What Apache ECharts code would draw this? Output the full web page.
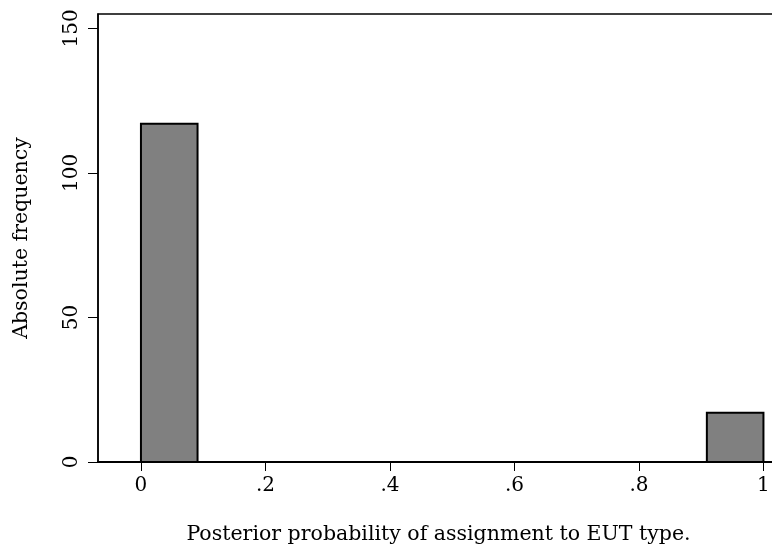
<!DOCTYPE html>
<html>
<head>
<meta charset="utf-8">
<script src="https://cdn.jsdelivr.net/npm/echarts@6/dist/echarts.min.js"></script>
<style>
  html, body { margin: 0; padding: 0; background: #fff; }
  #chart { width: 772px; height: 549px; }
</style>
</head>
<body>
<div id="chart"></div>
<script>
// histogram: 11 equal bins on [0, 1]
const binStarts = [0, 1 / 11, 2 / 11, 3 / 11, 4 / 11, 5 / 11, 6 / 11, 7 / 11, 8 / 11, 9 / 11, 10 / 11];
const binEnds = [1 / 11, 2 / 11, 3 / 11, 4 / 11, 5 / 11, 6 / 11, 7 / 11, 8 / 11, 9 / 11, 10 / 11, 1];
const counts = [117, 0, 0, 0, 0, 0, 0, 0, 0, 0, 17];
const xTicks = [0, 0.2, 0.4, 0.6, 0.8, 1];
const xTickLabels = ['0', '.2', '.4', '.6', '.8', '1'];
const yTicks = [0, 50, 100, 150];

const font = 'DejaVu Serif';

const chart = echarts.init(document.getElementById('chart'));

const option = {
    animation: false,
    grid: {
        left: 98,
        top: 14,
        width: 681,
        height: 448,
        outerBoundsMode: 'none',
        containLabel: false,
        show: true,
        borderColor: '#000',
        borderWidth: 1.5,
    },
    xAxis: {
        type: 'value',
        min: -0.069,
        max: -0.069 + 681 / 622.5,
        interval: 0.2,
        splitLine: { show: false },
        axisLine: { show: true, onZero: false, lineStyle: { color: '#000', width: 2 } },
        axisTick: {
            show: true,
            length: 9,
            lineStyle: { color: '#000', width: 1 },
            customValues: xTicks,
        },
        axisLabel: {
            customValues: xTicks,
            formatter: (v) => xTickLabels[xTicks.findIndex((t) => Math.abs(t - v) < 1e-9)] ?? '',
            color: '#000',
            fontFamily: font,
            fontSize: 20,
            margin: 14,
        },
        name: 'Posterior probability of assignment to EUT type.',
        nameLocation: 'middle',
        nameGap: 62,
        nameTextStyle: { color: '#000', fontFamily: font, fontSize: 20.5 },
    },
    yAxis: {
        type: 'value',
        min: 0,
        max: 155,
        interval: 50,
        splitLine: { show: false },
        axisLine: { show: true, onZero: false, lineStyle: { color: '#000', width: 1.5 } },
        axisTick: {
            show: true,
            length: 10,
            lineStyle: { color: '#000', width: 1 },
            customValues: yTicks,
        },
        axisLabel: {
            customValues: yTicks,
            rotate: 90,
            color: '#000',
            fontFamily: font,
            fontSize: 20,
            margin: 16,
        },
        name: 'Absolute frequency',
        nameLocation: 'middle',
        nameGap: 66,
        nameTextStyle: { color: '#000', fontFamily: font, fontSize: 20.5 },
    },
    series: [
        {
            type: 'custom',
            data: counts.map((c, i) => [binStarts[i], binEnds[i], c]),
            renderItem: (params, api) => {
                if (api.value(2) <= 0) return null;
                const p0 = api.coord([api.value(0), 0]);
                const p1 = api.coord([api.value(1), api.value(2)]);
                return {
                    type: 'rect',
                    shape: { x: p0[0], y: p1[1], width: p1[0] - p0[0], height: p0[1] - p1[1] },
                    style: { fill: '#808080', stroke: '#000', lineWidth: 2 },
                };
            },
            encode: { x: [0, 1], y: 2 },
        },
    ],
};

chart.setOption(option);
</script>
</body>
</html>
